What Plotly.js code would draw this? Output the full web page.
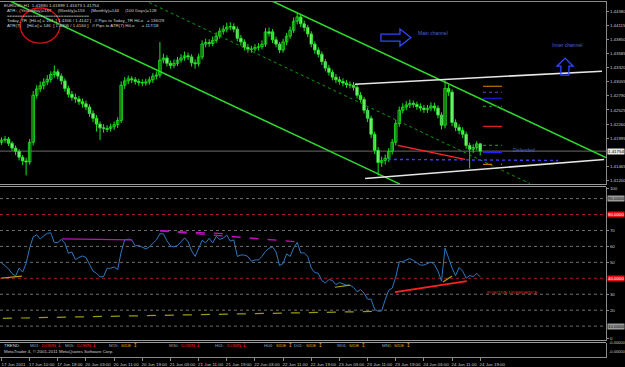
<!DOCTYPE html>
<html><head><meta charset="utf-8">
<script src="https://cdn.plot.ly/plotly-3.0.1.min.js"></script>
<style>html,body{margin:0;padding:0;background:#000;}#chart{width:625px;height:367px;}</style>
</head><body><div id="chart"></div>
<script>
// ---------- DATA ----------
const openP = [1.4192,1.4196,1.4198,1.4190,1.4181,1.4175,1.4164,1.4157,1.4155,1.4192,
1.4280,1.4292,1.4298,1.4305,1.4310,1.4319,1.4324,1.4316,1.4307,1.4293,
1.4282,1.4276,1.4273,1.4268,1.4264,1.4258,1.4246,1.4237,1.4226,1.4219,
1.4218,1.4218,1.4221,1.4225,1.4233,1.4299,1.4307,1.4311,1.4309,1.4306,
1.4304,1.4303,1.4305,1.4309,1.4316,1.4318,1.4346,1.4350,1.4340,1.4336,
1.4340,1.4346,1.4350,1.4354,1.4352,1.4341,1.4339,1.4352,1.4376,1.4379,
1.4377,1.4383,1.4391,1.4400,1.4404,1.4408,1.4409,1.4404,1.4387,1.4380,
1.4370,1.4366,1.4367,1.4370,1.4371,1.4376,1.4399,1.4399,1.4384,1.4376,
1.4365,1.4380,1.4391,1.4402,1.4419,1.4427,1.4414,1.4407,1.4395,1.4376,
1.4365,1.4357,1.4343,1.4331,1.4323,1.4314,1.4309,1.4306,1.4303,1.4300,
1.4299,1.4295,1.4280,1.4272,1.4252,1.4237,1.4207,1.4177,1.4154,1.4158,
1.4162,1.4175,1.4192,1.4227,1.4252,1.4258,1.4262,1.4265,1.4263,1.4259,
1.4256,1.4253,1.4256,1.4260,1.4256,1.4243,1.4224,1.4293,1.4286,1.4229,
1.4220,1.4214,1.4207,1.4186,1.4179,1.4182,1.41890];
const closeP = [1.4196,1.4198,1.4190,1.4181,1.4175,1.4164,1.4157,1.4155,1.4192,1.4280,
1.4292,1.4298,1.4305,1.4310,1.4319,1.4324,1.4316,1.4307,1.4293,1.4282,
1.4276,1.4273,1.4268,1.4264,1.4258,1.4246,1.4237,1.4226,1.4219,1.4218,
1.4216,1.4221,1.4225,1.4233,1.4299,1.4307,1.4311,1.4309,1.4306,1.4304,
1.4303,1.4305,1.4309,1.4316,1.4318,1.4346,1.4350,1.4340,1.4336,1.4340,
1.4346,1.4350,1.4354,1.4352,1.4341,1.4339,1.4352,1.4376,1.4379,1.4377,
1.4383,1.4391,1.4400,1.4404,1.4408,1.4409,1.4404,1.4387,1.4380,1.4370,
1.4366,1.4367,1.4370,1.4371,1.4376,1.4399,1.4396,1.4384,1.4376,1.4365,
1.4380,1.4391,1.4402,1.4419,1.4427,1.4414,1.4407,1.4395,1.4376,1.4365,
1.4357,1.4343,1.4331,1.4323,1.4314,1.4309,1.4306,1.4303,1.4300,1.4299,
1.4295,1.4280,1.4272,1.4252,1.4237,1.4207,1.4177,1.4154,1.4158,1.4162,
1.4175,1.4192,1.4227,1.4252,1.4258,1.4262,1.4265,1.4263,1.4259,1.4256,
1.4253,1.4256,1.4260,1.4256,1.4243,1.4224,1.4293,1.4286,1.4229,1.4220,
1.4214,1.4207,1.4186,1.4179,1.4182,1.4189,1.41754];
const highP = [1.4201,1.4204,1.4202,1.4194,1.4186,1.4179,1.4168,1.4163,1.4198,1.4288,
1.4299,1.4306,1.4312,1.4318,1.4325,1.4336,1.4329,1.4321,1.4312,1.4298,
1.4288,1.4283,1.4279,1.4274,1.4270,1.4263,1.4252,1.4243,1.4231,1.4226,
1.4224,1.4227,1.4231,1.4239,1.4306,1.4314,1.4317,1.4316,1.4314,1.4311,
1.4310,1.4311,1.4315,1.4322,1.4325,1.4380,1.4358,1.4355,1.4345,1.4347,
1.4352,1.4357,1.4362,1.4360,1.4357,1.4347,1.4358,1.4383,1.4386,1.4385,
1.4390,1.4398,1.4407,1.4411,1.4416,1.4417,1.4415,1.4409,1.4393,1.4385,
1.4376,1.4373,1.4376,1.4378,1.4383,1.4406,1.4407,1.4404,1.4390,1.4380,
1.4386,1.4397,1.4409,1.4426,1.4436,1.4432,1.4420,1.4412,1.4400,1.4381,
1.4370,1.4362,1.4348,1.4337,1.4328,1.4320,1.4315,1.4312,1.4309,1.4306,
1.4305,1.4300,1.4286,1.4277,1.4257,1.4242,1.4212,1.4183,1.4165,1.4169,
1.4181,1.4198,1.4234,1.4259,1.4265,1.4269,1.4272,1.4270,1.4268,1.4265,
1.4262,1.4262,1.4267,1.4266,1.4261,1.4248,1.4308,1.4300,1.4291,1.4235,
1.4226,1.4220,1.4212,1.4191,1.4188,1.4194,1.41899];
const lowP = [1.4187,1.4191,1.4185,1.4176,1.4168,1.4158,1.4149,1.4130,1.4150,1.4186,
1.4274,1.4286,1.4291,1.4299,1.4304,1.4313,1.4310,1.4300,1.4287,1.4276,
1.4270,1.4266,1.4262,1.4257,1.4252,1.4240,1.4230,1.4212,1.4196,1.4210,
1.4211,1.4212,1.4215,1.4219,1.4228,1.4292,1.4301,1.4303,1.4300,1.4298,
1.4297,1.4298,1.4300,1.4303,1.4310,1.4313,1.4340,1.4334,1.4330,1.4331,
1.4335,1.4341,1.4345,1.4346,1.4334,1.4330,1.4334,1.4347,1.4370,1.4371,
1.4372,1.4378,1.4386,1.4394,1.4398,1.4402,1.4398,1.4381,1.4373,1.4364,
1.4360,1.4360,1.4362,1.4364,1.4366,1.4371,1.4390,1.4378,1.4370,1.4359,
1.4360,1.4374,1.4386,1.4397,1.4413,1.4408,1.4400,1.4389,1.4370,1.4358,
1.4351,1.4337,1.4325,1.4317,1.4308,1.4303,1.4300,1.4297,1.4294,1.4293,
1.4289,1.4274,1.4266,1.4246,1.4230,1.4200,1.4170,1.4130,1.4146,1.4150,
1.4155,1.4169,1.4186,1.4221,1.4246,1.4252,1.4256,1.4257,1.4253,1.4250,
1.4247,1.4247,1.4250,1.4250,1.4237,1.4216,1.4218,1.4279,1.4222,1.4213,
1.4207,1.4200,1.4180,1.4143,1.4172,1.4177,1.41673];
const rsi = [49.6,48.0,45.8,43.0,41.4,46.4,43.9,49.3,59.1,66.0,
67.3,64.7,66.6,68.2,68.5,62.4,62.4,64.4,62.0,55.7,
56.5,51.7,53.1,54.0,53.1,49.0,44.5,43.1,40.9,41.1,
46.3,46.3,47.1,45.5,56.5,64.1,64.6,64.1,60.3,60.6,
59.7,58.4,59.7,61.6,64.1,67.9,67.9,63.5,60.3,59.7,
60.6,62.9,65.4,62.9,57.2,53.7,59.1,63.8,62.2,65.1,
62.2,66.3,64.4,65.2,67.1,63.3,64.1,53.7,54.6,54.6,
53.7,50.7,51.5,51.5,53.7,56.9,58.8,59.7,56.5,48.0,
49.3,55.3,53.7,59.1,62.5,55.9,55.9,53.7,46.4,43.6,
43.1,38.6,37.0,39.2,38.7,36.0,37.3,36.7,35.7,35.7,
34.3,31.6,32.9,30.7,26.9,26.9,20.6,19.3,19.5,26.6,
32.5,33.8,40.8,50.4,50.5,51.5,52.4,51.2,49.6,48.3,
48.3,49.3,50.2,48.6,44.5,38.2,58.9,52.8,46.4,41.7,
46.8,44.5,40.1,41.7,41.1,43.1,40.9];
const timeTickBars = [0,8,16,24,32,40,48,56,64,72,80,88,96,104,112,120,128,136];
const timeTickText = ["17 Jun 2011","17 Jun 10:00","17 Jun 18:00","20 Jun 03:00","20 Jun 11:00","20 Jun 19:00",
"21 Jun 03:00","21 Jun 11:00","21 Jun 19:00","22 Jun 03:00","22 Jun 11:00","22 Jun 19:00",
"23 Jun 03:00","23 Jun 11:00","23 Jun 19:00","24 Jun 03:00","24 Jun 11:00","24 Jun 19:00"];
const priceTicks = [1.44380,1.44115,1.43850,1.43585,1.43320,1.43055,1.42790,1.42525,1.42260,1.41995,1.41465,1.41200];
const bid = 1.41754;
// drawn objects: [bar index, price]
const mainUpperLine = [[76.2,1.44587],[171.7,1.41635]];
const mainLowerLine = [[-0.43,1.44655],[113.2,1.41135]];
const mainMidLine = [[40.4,1.44587],[150.1,1.41147]];
const innerUpperLine = [[100.4,1.43008],[170.6,1.43252]];
const innerLowerLine = [[103.3,1.41241],[171.2,1.41598]];
const priceDivLine = [[112.6,1.41861],[131.7,1.41598]];
const defendLine = [[109.8,1.41598],[158.1,1.41579]];
const pivotSpan = [136.8,142.2];
const pivotLevels = [1.42970,1.42857,1.42745,1.42594,1.42218,1.41861,1.41729,1.41504];
const rsiDivPurple1 = [[17.2,64.7],[37.1,64.1]];
const rsiDivPurple2 = [[45.0,69.8],[83.9,62.9]];
const rsiDivPurple3 = [[45.0,69.8],[64.1,67.9]];
const rsiYellowLow = [[0.4,14.9],[107.5,19.3]];
const rsiYellowA = [[0.0,40.1],[5.8,41.4]];
const rsiYellowB = [[94.7,34.4],[99.0,35.7]];
const rsiYellowC = [[125.4,37.6],[128.0,41.4]];
const rsiRedDiv = [[111.8,31.3],[132.2,38.2]];
const rsiLevels = [10,20,30,50,60,70,90];
const rsiRedLevels = [40,80];
const trendFrames = ["M01:","M05:","M15:","M30:","H01:","H04:","D01:","W01:","MN1:"];
const trendStates = ["DOWN","DOWN","SIDE","DOWN","DOWN","SIDE","SIDE","SIDE","SIDE"];
const infoLines = [
 "EURUSD,H1  1.41890 1.41899 1.41673 1.41754",
 "ATR:- (Yesterday)=167     (Weekly)=153     (Monthly)=144     (100 Days)=128",
 "================================",
 "Today_TR  [HiLo] = 164  [ 1.4306 / 1.4142 ]   // Pips to Today_TR HiLo   = 136/29",
 "ATR(7)     [HiLo] = 146  [ 1.4306 / 1.4160 ]   // Pips to ATR(7) HiLo      = 117/18"
];

// ---------- LAYOUT HELPERS ----------
const W = 606, TOP = 1, BOT = 357, H = BOT - TOP;
const px = v => v / W;
const py = p => (BOT - p) / H;
const FONT = "Liberation Sans, Arial, sans-serif";
const idx = closeP.map((_, i) => i);
const GREEN = '#1ee01e';

const shapes = [];
const annotations = [];
function seg(pts, yref, color, width, dash) {
  shapes.push({type:'line', xref:'x', yref:yref, x0:pts[0][0], y0:pts[0][1], x1:pts[1][0], y1:pts[1][1],
    line:{color:color, width:width, dash:dash||'solid'}, layer:'above'});
}
seg(mainUpperLine,'y','#2ed62e',1.6);
seg(mainLowerLine,'y','#2ed62e',1.6);
seg(mainMidLine,'y','#0b9a0b',1,'dot');
seg(innerUpperLine,'y','#e6e6e6',1.6);
seg(innerLowerLine,'y','#e6e6e6',1.6);
seg(priceDivLine,'y','#ff2a2a',1.4);
seg(defendLine,'y','#3a3aff',1.4,'dot');
shapes.push({type:'line', xref:'paper', yref:'y', x0:0, x1:1, y0:bid, y1:bid, line:{color:'#6a6a6a', width:1}, layer:'below'});
const pivotColors = ['#e08a00','#7a3cc8','#2020ff','#108a10','#e02020','#108a10','#2020ff','#c07a00'];
const pivotDash = ['solid','dot','solid','dot','solid','dot','solid','dash'];
pivotLevels.forEach((lv,k)=>{
  shapes.push({type:'line', xref:'x', yref:'y', x0:pivotSpan[0], x1:pivotSpan[1], y0:lv, y1:lv,
    line:{color:pivotColors[k], width:1.2, dash:pivotDash[k]}});
});
shapes.push({type:'path', xref:'x', yref:'y',
  path:'M107.8,1.43948 L113.2,1.43948 L113.2,1.44042 L116.3,1.43882 L113.2,1.43722 L113.2,1.43816 L107.8,1.43816 Z',
  line:{color:'#2f46ff', width:1.3}});
shapes.push({type:'path', xref:'x', yref:'y',
  path:'M158.9,1.43177 L158.9,1.43346 L157.8,1.43346 L160.1,1.43497 L162.4,1.43346 L161.2,1.43346 L161.2,1.43177 Z',
  line:{color:'#2f46ff', width:1.3}});
shapes.push({type:'circle', xref:'x', yref:'y', x0:5.3, x1:16.6, y0:1.43779, y1:1.44437, line:{color:'#e01010', width:1.3}});
rsiLevels.forEach(lv=>shapes.push({type:'line', xref:'paper', yref:'y2', x0:0, x1:1, y0:lv, y1:lv, line:{color:'#6e6e6e', width:1, dash:'dot'}, layer:'below'}));
rsiRedLevels.forEach(lv=>shapes.push({type:'line', xref:'paper', yref:'y2', x0:0, x1:1, y0:lv, y1:lv, line:{color:'#b01818', width:1, dash:'dot'}, layer:'below'}));
seg(rsiDivPurple1,'y2','#c010c0',1.4);
seg(rsiDivPurple2,'y2','#c010c0',1.4,'dash');
seg(rsiDivPurple3,'y2','#c010c0',1.2,'dash');
seg(rsiYellowLow,'y2','#9a9a10',1.2,'dash');
seg(rsiYellowA,'y2','#b0a010',1.2);
seg(rsiYellowB,'y2','#b0a010',1.2);
seg(rsiYellowC,'y2','#b0a010',1.2);
seg(rsiRedDiv,'y2','#ff2020',1.8);
[[TOP+0.5,'#8a8a8a'],[184.5,'#9a9a9a'],[186.5,'#9a9a9a'],[340.5,'#9a9a9a'],[342.5,'#9a9a9a']].forEach(([p,c])=>{
  shapes.push({type:'line', xref:'paper', yref:'paper', x0:0, x1:1, y0:py(p), y1:py(p), line:{color:c, width:1}});
});

const FS = 4.4;
const txt = (x, y, text, color, opts) => annotations.push(Object.assign({
  x:x, y:y, xref:'paper', yref:'paper', text:text, showarrow:false, xanchor:'left', yanchor:'middle',
  font:{family:FONT, size:FS, color:color}}, opts||{}));
const infoY = [5, 10.5, 15.5, 20.5, 25.5];
infoLines.forEach((t,k)=>txt(px(k===0?2:5), py(infoY[k]), t, '#d2d2d2'));
annotations.push({x:122.6, y:1.43967, xref:'x', yref:'y', text:'Main channel', showarrow:false, font:{family:FONT,size:5,color:'#4a62d8'}});
annotations.push({x:160.6, y:1.43741, xref:'x', yref:'y', text:'Inner channel', showarrow:false, font:{family:FONT,size:5,color:'#4a62d8'}});
annotations.push({x:148.4, y:1.41767, xref:'x', yref:'y', text:'Defended', showarrow:false, font:{family:FONT,size:5,color:'#4a62d8'}});
annotations.push({x:145.3, y:31.3, xref:'x', yref:'y2', text:'POSITIVE DIVERGENCE', showarrow:false, font:{family:FONT,size:FS,color:'#ff2020'}});
const hl = (y, yref, text, bg, fc) => annotations.push({x:1, y:y, xref:'paper', yref:yref, text:text, showarrow:false,
  xanchor:'left', yanchor:'middle', xshift:1, bgcolor:bg, borderpad:0, font:{family:FONT,size:FS,color:fc}});
hl(bid,'y','1.41754','#e8e8e8','#000');
hl(90,'y2','90.0000','#9a9a9a','#000');
hl(80,'y2','80.0000','#e01010','#fff');
hl(40,'y2','40.0000','#e01010','#fff');
hl(10,'y2','10.0000','#9a9a9a','#000');
annotations.push({x:1, y:py(346.5), xref:'paper', yref:'paper', text:'-0.00000', showarrow:false, xanchor:'left', xshift:1, font:{family:FONT,size:4,color:'#c8c8c8'}});
annotations.push({x:1, y:py(355.5), xref:'paper', yref:'paper', text:'-0.00000', showarrow:false, xanchor:'left', xshift:1, font:{family:FONT,size:4,color:'#c8c8c8'}});
txt(px(2), py(345), 'TREND', '#d8d8d8');
const framePx = [28,63,107,167,213,262,292,335,380];
trendFrames.forEach((f,k)=>{
  const down = trendStates[k]==='DOWN';
  const c = down?'#ff2020':'#e0a000';
  txt(px(framePx[k]), py(345), f, '#8aa0c8');
  txt(px(framePx[k]+12), py(345), trendStates[k], c);
  txt(px(framePx[k]+(down?27:24)), py(345), down?'↓':'↕', c, {font:{family:'DejaVu Sans',size:5.5,color:c}});
});
txt(px(2), py(351), 'MetaTrader 4, © 2001-2011 MetaQuotes Software Corp.', '#d0d0d0');

// candles: wicks + bodies (bodies drawn as bars from open to close)
const wickX = [], wickY = [];
idx.forEach(i=>{ wickX.push(i,i,null); wickY.push(lowP[i],highP[i],null); });
const bodyLen = idx.map(i => closeP[i]-openP[i]);
const bodyFill = idx.map(i => closeP[i] >= openP[i] ? '#000000' : '#e8ffe8');
const traces = [
  {type:'scatter', mode:'lines', x:wickX, y:wickY, xaxis:'x', yaxis:'y', line:{color:GREEN, width:1}, hoverinfo:'skip', connectgaps:false},
  {type:'bar', x:idx, y:bodyLen, base:openP, width:0.72, xaxis:'x', yaxis:'y',
   marker:{color:bodyFill, line:{color:GREEN, width:0.9}}, hoverinfo:'skip'},
  {type:'scatter', mode:'lines', x:idx, y:rsi, xaxis:'x', yaxis:'y2', line:{color:'#2f78c0', width:1}, hoverinfo:'skip'},
  {type:'scatter', mode:'lines', x:[0], y:[0], xaxis:'x', yaxis:'y3', line:{color:'rgba(0,0,0,0)'}, hoverinfo:'skip'}
];

const axisFont = {family:FONT, size:FS, color:'#c8c8c8'};
const layout = {
  width:625, height:367, paper_bgcolor:'#000', plot_bgcolor:'#000',
  margin:{l:0, r:19, t:TOP, b:10}, showlegend:false, bargap:0,
  xaxis:{range:[-0.426,171.73], anchor:'y3', showgrid:false, zeroline:false,
    tickvals:timeTickBars, ticktext:timeTickText, tickfont:axisFont, tickangle:0, ticks:'outside', ticklen:3, tickcolor:'#8a8a8a',
    showline:true, linecolor:'#8a8a8a', ticklabelshift:12, ticklabelstandoff:0},
  yaxis:{domain:[py(184.5),1], range:[1.41128,1.44568], side:'right', showgrid:false, zeroline:false,
    tickvals:priceTicks, ticktext:priceTicks.map(v=>v.toFixed(5)), tickfont:axisFont,
    ticks:'outside', ticklen:2, tickcolor:'#8a8a8a', showline:true, linecolor:'#8a8a8a', anchor:'x', ticklabelstandoff:0},
  yaxis2:{domain:[py(340.5),py(186.5)], range:[0.98,97.58], side:'right', showgrid:false, zeroline:false,
    tickvals:[96.6,70,60,50,30,20,2.4], ticktext:['100','70','60','50','30','20','0'], tickfont:axisFont,
    ticks:'outside', ticklen:2, tickcolor:'#8a8a8a', showline:true, linecolor:'#8a8a8a', anchor:'x', ticklabelstandoff:0},
  yaxis3:{domain:[0,py(342.5)], range:[-1,1], side:'right', showgrid:false, zeroline:false, showticklabels:false,
    showline:true, linecolor:'#8a8a8a', anchor:'x'},
  shapes:shapes, annotations:annotations
};
Plotly.newPlot('chart', traces, layout, {staticPlot:true, displayModeBar:false});
</script></body></html>
